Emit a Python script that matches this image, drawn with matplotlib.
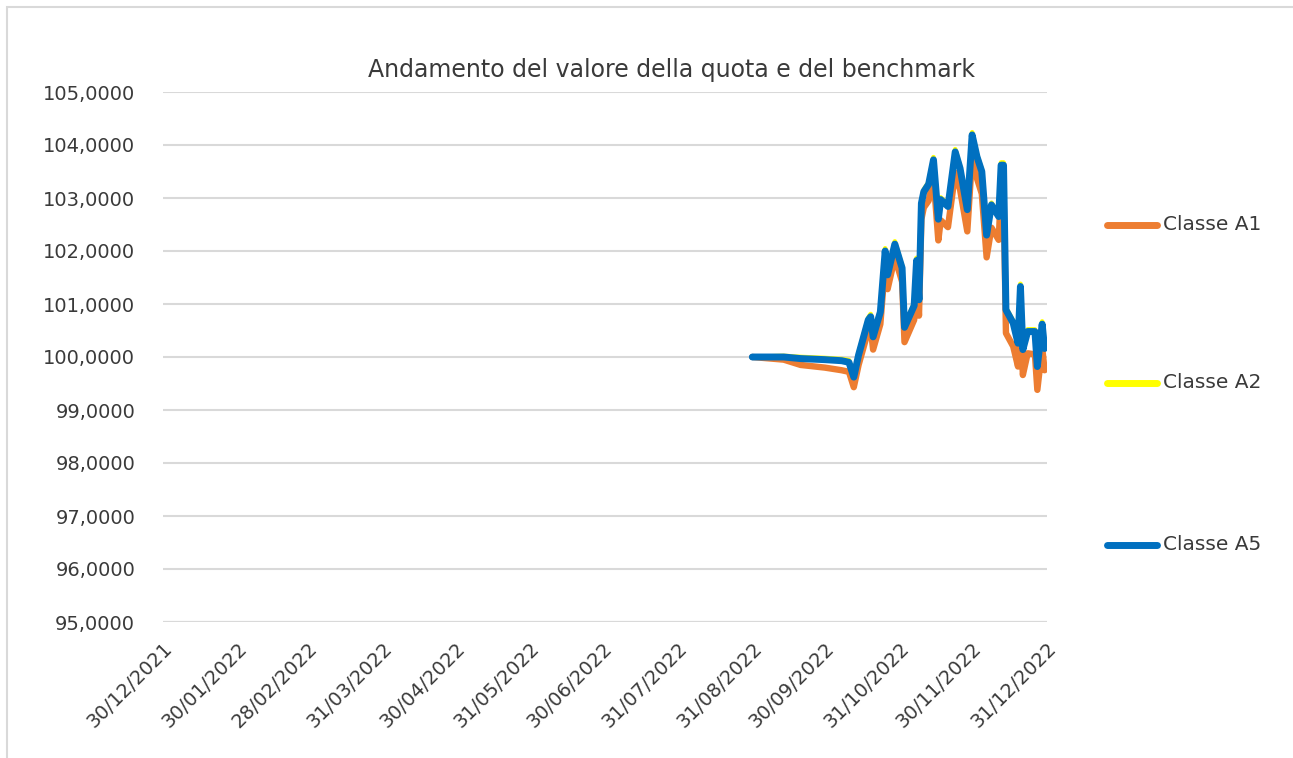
import matplotlib
matplotlib.use('Agg')
import matplotlib.pyplot as plt
import matplotlib.dates as mdates
from matplotlib.lines import Line2D
from matplotlib.patches import Rectangle
from matplotlib.ticker import FuncFormatter
import pandas as pd

# data
dates = ['2022-08-31', '2022-09-13', '2022-09-20', '2022-09-30', '2022-10-07', '2022-10-10',
         '2022-10-12', '2022-10-14', '2022-10-18', '2022-10-19', '2022-10-20', '2022-10-23',
         '2022-10-25', '2022-10-26', '2022-10-29', '2022-11-01', '2022-11-02', '2022-11-06',
         '2022-11-07', '2022-11-08', '2022-11-09', '2022-11-10', '2022-11-12', '2022-11-14',
         '2022-11-16', '2022-11-17', '2022-11-20', '2022-11-23', '2022-11-25', '2022-11-28',
         '2022-11-30', '2022-12-02', '2022-12-04', '2022-12-06', '2022-12-08', '2022-12-11',
         '2022-12-12', '2022-12-13', '2022-12-14', '2022-12-17', '2022-12-19', '2022-12-20',
         '2022-12-21', '2022-12-23', '2022-12-26', '2022-12-27', '2022-12-29', '2022-12-30']

classe_a5 = [100.00, 100.00, 99.97, 99.95, 99.93, 99.90, 99.62, 100.04, 100.70, 100.76, 100.38, 100.85,
             102.00, 101.55, 102.13, 101.68, 100.56, 100.97, 101.82, 101.08, 102.90, 103.12, 103.26, 103.72,
             102.60, 102.97, 102.84, 103.87, 103.56, 102.78, 104.19, 103.78, 103.50, 102.30, 102.87, 102.65,
             103.62, 103.62, 100.89, 100.64, 100.26, 101.33, 100.14, 100.48, 100.48, 99.82, 100.62, 100.16]

classe_a2 = [100.00, 100.02, 100.00, 99.98, 99.96, 99.94, 99.66, 100.08, 100.74, 100.81, 100.42, 100.89,
             102.05, 101.59, 102.18, 101.72, 100.60, 101.01, 101.87, 101.12, 102.94, 103.16, 103.30, 103.77,
             102.64, 103.01, 102.88, 103.92, 103.60, 102.82, 104.24, 103.82, 103.54, 102.34, 102.91, 102.69,
             103.67, 103.67, 100.93, 100.68, 100.30, 101.38, 100.18, 100.52, 100.52, 99.86, 100.67, 100.20]

classe_a1 = [100.00, 99.95, 99.85, 99.80, 99.75, 99.72, 99.43, 99.85, 100.50, 100.56, 100.14, 100.62,
             101.76, 101.28, 101.88, 101.42, 100.28, 100.70, 101.55, 100.78, 102.60, 102.82, 102.95, 103.40,
             102.20, 102.58, 102.45, 103.48, 103.16, 102.37, 103.78, 103.37, 103.08, 101.88, 102.44, 102.21,
             103.18, 103.18, 100.45, 100.20, 99.82, 100.90, 99.66, 100.07, 100.05, 99.38, 100.18, 99.75]

tick_dates = ['2021-12-30', '2022-01-30', '2022-02-28', '2022-03-31', '2022-04-30', '2022-05-31',
              '2022-06-30', '2022-07-31', '2022-08-31', '2022-09-30', '2022-10-31', '2022-11-30',
              '2022-12-31']

series = [('Classe A1', classe_a1, '#ED7D31', 4.6),
          ('Classe A2', classe_a2, '#FFFF00', 3.4),
          ('Classe A5', classe_a5, '#0070C0', 5.0)]

x = pd.to_datetime(dates)
ticks = pd.to_datetime(tick_dates)

fig = plt.figure(figsize=(12.93, 7.58), dpi=100)
fig.patch.set_facecolor('white')

# chart area border (light gray, top & left visible)
fig.add_artist(Rectangle((7 / 1293, -0.1), 1.2, 1 - 7 / 758 + 0.1, transform=fig.transFigure,
                         facecolor='none', edgecolor='#d9d9d9', lw=1.5))

ax = fig.add_axes([163 / 1293, 1 - 622 / 758, (1047 - 163) / 1293, (622 - 92) / 758])
for name, vals, col, lw in series:
    ax.plot(x, vals, color=col, lw=lw, solid_joinstyle='round', solid_capstyle='round')

ax.set_xlim(ticks[0], ticks[-1])
ax.set_ylim(95, 105)
ax.set_yticks(range(95, 106))
ax.yaxis.set_major_formatter(FuncFormatter(lambda v, p: f'{v:.4f}'.replace('.', ',')))
ax.set_xticks(ticks)
ax.xaxis.set_major_formatter(mdates.DateFormatter('%d/%m/%Y'))
for lab in ax.get_xticklabels():
    lab.set_rotation(45)
    lab.set_ha('right')
    lab.set_rotation_mode('anchor')
ax.tick_params(axis='both', length=0, labelsize=14, colors='#3a3a3a')
ax.tick_params(axis='y', pad=20)
ax.tick_params(axis='x', pad=12)
for s in ax.spines.values():
    s.set_visible(False)
ax.grid(axis='y', color='#d9d9d9', lw=1.5)
ax.set_axisbelow(True)
ax.axhline(95, color='#bfbfbf', lw=1.5, zorder=0.5)

fig.text(672 / 1293, 1 - 70 / 758, 'Andamento del valore della quota e del benchmark',
         ha='center', va='center', fontsize=17, color='#3a3a3a')

# legend on the right
leg_y = [225, 383, 545]
for (name, vals, col, lw), yy in zip(series, leg_y):
    yf = 1 - yy / 758
    fig.add_artist(Line2D([1107 / 1293, 1157 / 1293], [yf, yf], transform=fig.transFigure,
                          color=col, lw=5, solid_capstyle='round'))
    fig.text(1163 / 1293, yf, name, ha='left', va='center', fontsize=14.5, color='#3a3a3a')

fig.savefig('out.png', dpi=100, facecolor='white')
